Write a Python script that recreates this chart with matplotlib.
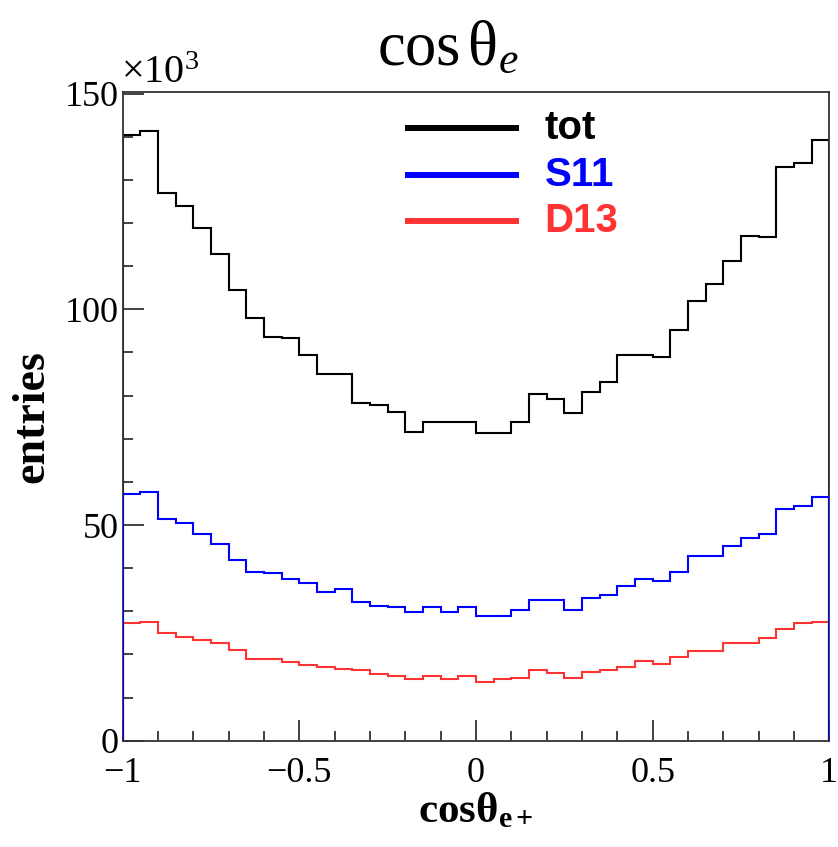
import matplotlib.pyplot as plt
import numpy as np
from matplotlib.ticker import MultipleLocator

plt.rcParams['font.family'] = ['Liberation Serif', 'DejaVu Serif']
plt.rcParams['mathtext.fontset'] = 'custom'
plt.rcParams['mathtext.rm'] = 'Liberation Serif'
plt.rcParams['mathtext.it'] = 'Liberation Serif:italic'
plt.rcParams['mathtext.bf'] = 'Liberation Serif:bold'

# 40 bins over cos(theta) in [-1, 1], entries in units of 10^3
edges = np.linspace(-1, 1, 41)

tot = [140.3, 141.4, 127.0, 123.9, 118.8, 112.8, 104.4, 97.9, 93.6, 93.3,
       89.3, 85.0, 85.0, 78.2, 77.8, 76.3, 71.6, 73.8, 73.8, 73.8,
       71.3, 71.3, 73.8, 80.3, 79.2, 76.0, 80.9, 83.1, 89.3, 89.3,
       89.0, 95.2, 101.9, 105.9, 111.2, 117.1, 116.7, 132.9, 134.0, 139.3]

s11 = [57.2, 57.6, 51.4, 50.5, 47.8, 45.7, 42.0, 39.1, 38.8, 37.4,
       36.6, 34.4, 35.2, 32.2, 31.2, 30.9, 29.8, 30.9, 29.8, 30.9,
       29.0, 29.0, 30.2, 32.7, 32.7, 30.2, 33.0, 33.7, 35.9, 37.4,
       37.0, 39.1, 42.7, 42.7, 45.2, 47.0, 47.8, 53.6, 54.3, 56.4]

d13 = [27.3, 27.6, 25.0, 24.0, 23.3, 22.6, 21.1, 18.9, 18.9, 18.2,
       17.5, 17.1, 16.7, 16.4, 15.4, 15.0, 14.3, 15.0, 14.3, 15.0,
       13.6, 14.2, 14.6, 16.4, 15.8, 14.6, 16.0, 16.4, 17.1, 18.5,
       17.8, 19.3, 20.7, 20.7, 22.6, 22.6, 23.7, 25.8, 27.2, 27.6]

labels = ['tot', 'S11', 'D13']
colors = ['black', '#0000ff', '#ff3333']

fig = plt.figure(figsize=(8.38, 8.47), dpi=100)
ax = fig.add_axes([0.1464, 0.1255, 0.8432, 0.7655])

ax.stairs(tot, edges, baseline=0, color=colors[0], lw=1.5, zorder=2)
ax.stairs(d13, edges, baseline=0, color=colors[2], lw=1.5, zorder=2)
ax.stairs(s11, edges, baseline=0, color=colors[1], lw=1.5, zorder=3)

ax.set_xlim(-1, 1)
ax.set_ylim(0, 150.3)
ax.xaxis.set_major_locator(MultipleLocator(0.5))
ax.xaxis.set_minor_locator(MultipleLocator(0.1))
ax.yaxis.set_major_locator(MultipleLocator(50))
ax.yaxis.set_minor_locator(MultipleLocator(10))
ax.set_xticks([-1, -0.5, 0, 0.5, 1])
ax.set_xticklabels(['\u22121', '\u22120.5', '0', '0.5', '1'])
ax.set_yticks([0, 50, 100, 150])
ax.set_yticklabels(['0', '50', '100', '150'])
ax.tick_params(which='both', direction='in', labelsize=26, width=1.3, color='#333333')
ax.tick_params(axis='x', which='major', length=15, pad=12)
ax.tick_params(axis='x', which='minor', length=7.5)
ax.tick_params(axis='y', which='major', length=15, pad=3)
ax.tick_params(axis='y', which='minor', length=7.5)
for s in ax.spines.values():
    s.set_linewidth(1.3)
    s.set_color('#333333')

ax.text(-0.002, 1.0, r'$\times10^{3}$', transform=ax.transAxes, fontsize=29,
        ha='left', va='bottom')

ax.set_xlabel(r'$\mathbf{cos\theta}_{\mathbf{e+}}$', fontsize=31, labelpad=1)
ax.set_ylabel('entries', fontsize=33, fontweight='bold', labelpad=8)

fig.text(448 / 838, 1 - 65 / 847, r'$\mathrm{cos\,\theta}_{e}$', fontsize=45,
         ha='center', va='baseline')

# legend drawn by hand
ly = [0.945, 0.873, 0.801]
for lab, c, y in zip(labels, colors, ly):
    ax.plot([0.399, 0.561], [y, y], color=c, lw=4.3, transform=ax.transAxes,
            solid_capstyle='butt')
    ax.text(0.597, y, lab, color=c, fontsize=29, fontweight='bold',
            family='Liberation Sans', transform=ax.transAxes, va='center', ha='left')

fig.savefig('out.png', dpi=100)
